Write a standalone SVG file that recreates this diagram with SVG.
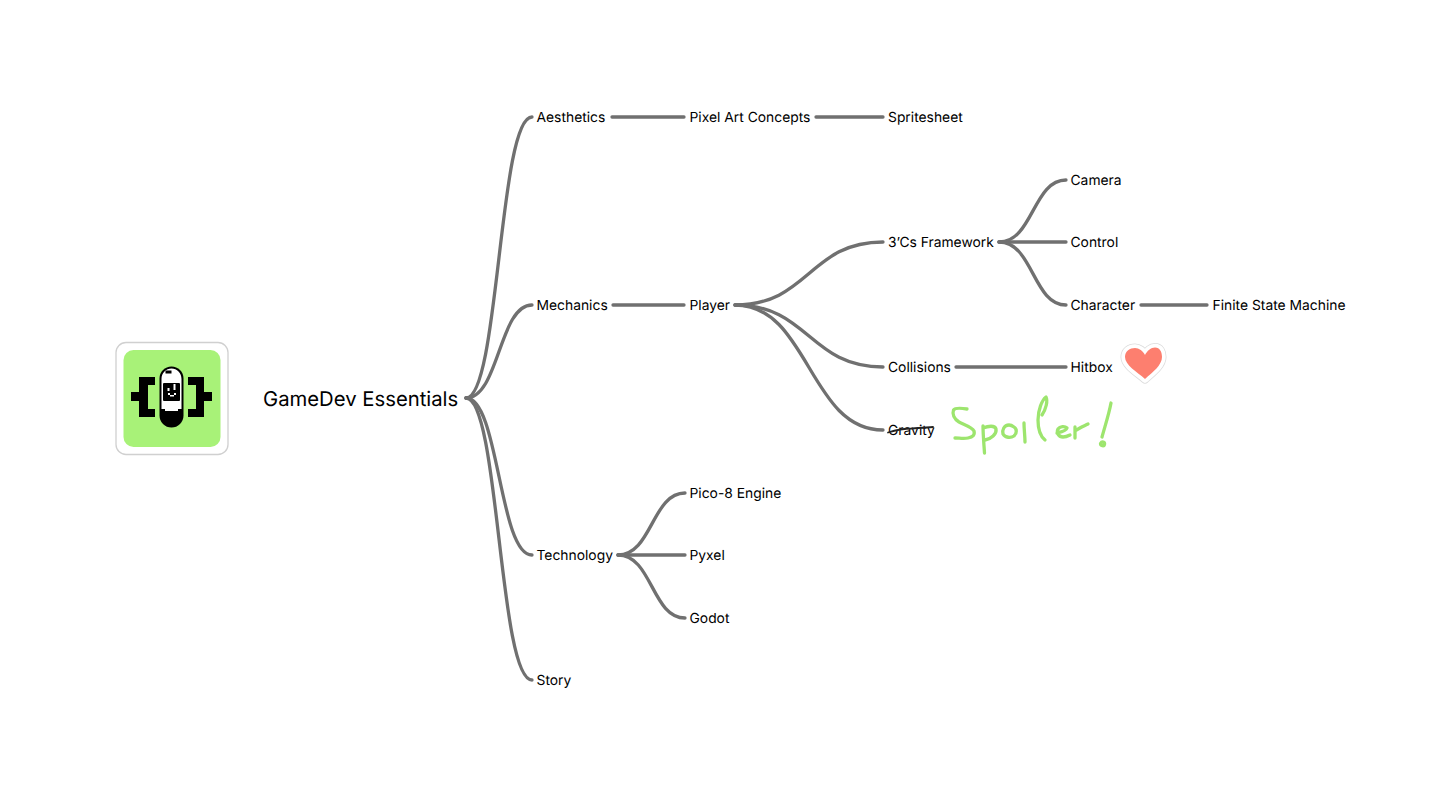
<svg xmlns="http://www.w3.org/2000/svg" width="1456" height="800" viewBox="0 0 1456 800">
<style>
text{font-family:Inter,"Liberation Sans",sans-serif;font-size:13.85px;fill:#000;text-rendering:geometricPrecision}
.c{fill:none;stroke:#707070;stroke-width:3.3;stroke-linecap:round}
.h{fill:none;stroke:#9de56e;stroke-width:3.3;stroke-linecap:round;stroke-linejoin:round}
.k{fill:#000}
.w{fill:#fff}
</style>
<rect width="1456" height="800" fill="#fff"/>
<g id="connectors">
<path class="c" d="M466 398C499 398 499 117 532 117"/>
<path class="c" d="M466 398C499 398 499 305 532 305"/>
<path class="c" d="M466 398C499 398 499 555 532 555"/>
<path class="c" d="M466 398C499 398 499 680 532 680"/>
<path class="c" d="M612 117H684"/>
<path class="c" d="M816 117H883"/>
<path class="c" d="M613 305H684"/>
<path class="c" d="M735 305C809 305 809 242 883 242"/>
<path class="c" d="M735 305C809 305 809 367 883 367"/>
<path class="c" d="M735 305C809 305 809 430 883 430"/>
<path class="c" d="M999 242C1033 242 1033 180 1066 180"/>
<path class="c" d="M999 242H1066"/>
<path class="c" d="M999 242C1033 242 1033 305 1066 305"/>
<path class="c" d="M1141 305H1207"/>
<path class="c" d="M956 367H1066"/>
<path class="c" d="M618 555C652 555 652 493 685 493"/>
<path class="c" d="M618 555H685"/>
<path class="c" d="M618 555C652 555 652 618 685 618"/>
</g>
<g id="logo">
<rect x="116" y="342.500" width="112" height="112" rx="10" fill="#fff" stroke="#d0d0d0" stroke-width="1.300"/>
<rect x="123.500" y="350" width="97" height="97" rx="10" fill="#a8f278"/>
<path class="k" d="M131 392H139V377H155V385H148V409H155V417H139V401H131Z"/>
<path class="k" d="M212 392H204V377H188V385H196V409H188V417H204V401H212Z"/>
<rect x="159.500" y="366.500" width="24" height="61" rx="12" class="k"/>
<path class="w" d="M161.500 409V379C161.500 373 166 368.500 171.500 368.500C177 368.500 181.500 373 181.500 379V409H178V411H165V409Z"/>
<rect x="163" y="383" width="17" height="18" rx="1" class="k"/>
<rect x="165.500" y="370.500" width="6" height="3" class="k"/>
<rect x="167.500" y="388" width="2" height="3" class="w"/>
<rect x="173.500" y="384" width="2" height="6" class="w"/>
<rect x="168" y="393" width="2" height="2" class="w"/>
<rect x="170" y="395" width="4" height="1.500" class="w"/>
<rect x="174" y="393" width="2" height="2" class="w"/>
</g>
<g id="root"><text x="263" y="406" style="font-size:20.300px">GameDev Essentials</text></g>
<g id="aesthetics"><text x="536.500" y="122">Aesthetics</text></g>
<g id="pixel-art"><text x="689.500" y="122">Pixel Art Concepts</text></g>
<g id="spritesheet"><text x="888" y="122">Spritesheet</text></g>
<g id="camera"><text x="1070.500" y="185">Camera</text></g>
<g id="framework"><text x="888" y="247.400">3’Cs Framework</text></g>
<g id="control"><text x="1070.500" y="247.400">Control</text></g>
<g id="mechanics"><text x="536.500" y="310">Mechanics</text></g>
<g id="player"><text x="689.500" y="310">Player</text></g>
<g id="character"><text x="1070.500" y="310">Character</text></g>
<g id="fsm"><text x="1212.500" y="310">Finite State Machine</text></g>
<g id="collisions"><text x="888" y="372.400">Collisions</text></g>
<g id="hitbox"><text x="1070.500" y="372.400">Hitbox</text></g>
<g id="gravity"><text x="888" y="435">Gravity</text>
<path d="M888 432.500C896 430 905 428.500 912 428.500C920 428 926 427.500 933 427" fill="none" stroke="#222" stroke-width="1.800" stroke-linecap="round"/></g>
<g id="pico"><text x="689.500" y="498">Pico-8 Engine</text></g>
<g id="technology"><text x="536.500" y="560.400">Technology</text></g>
<g id="pyxel"><text x="689.500" y="560.400">Pyxel</text></g>
<g id="godot"><text x="689.500" y="623">Godot</text></g>
<g id="story"><text x="536.500" y="685.400">Story</text></g>
<g id="heart">
<path d="M1145 379C1137 372 1125 365 1125 357C1125 351 1130 348 1135 348C1139 348 1143 351 1145 355C1147 351 1151 347.500 1155 347.500C1160 347.500 1162 352 1162 357C1162 365 1153 372 1145 379Z" fill="#fff" stroke="#dcdcdc" stroke-width="9" stroke-linejoin="round"/>
<path d="M1145 379C1137 372 1125 365 1125 357C1125 351 1130 348 1135 348C1139 348 1143 351 1145 355C1147 351 1151 347.500 1155 347.500C1160 347.500 1162 352 1162 357C1162 365 1153 372 1145 379Z" fill="#fff" stroke="#fff" stroke-width="7.500" stroke-linejoin="round"/>
<path d="M1145 379C1137 372 1125 365 1125 357C1125 351 1130 348 1135 348C1139 348 1143 351 1145 355C1147 351 1151 347.500 1155 347.500C1160 347.500 1162 352 1162 357C1162 365 1153 372 1145 379Z" fill="#fd7f6f"/>
</g>
<g id="spoiler">
<path class="h" d="M967 409C961 408 955 408 953.500 410C952 414 954 419 959 422C965 425 972 427 974 431C975 435 973 437 968 438C964 439 959 438 955 438"/>
<path class="h" d="M983 426C983 434 984 445 984.500 453M983 428C988 426 995 425 996 429C997 434 991 439 985 440"/>
<path class="h" d="M1009 425C1004 425 1002 430 1003 434C1005 438 1011 438 1014 436C1017 433 1017 429 1014 427C1012 425.500 1010 425 1009 425"/>
<path class="h" d="M1024 423C1024 430 1025 436 1025 442"/>
<path class="h" d="M1045 440C1040 436 1038 428 1038 420C1038 410 1042 400 1046 397C1048 401 1046 409 1042 415"/>
<path class="h" d="M1057 433C1061 432 1066 431 1067 428C1065 426 1060 426 1058 429C1056 433 1059 437 1063 437C1065 437 1068 436 1070 435"/>
<path class="h" d="M1075 427C1075 431 1075 435 1075 438M1075 431C1079 428 1084 426 1088 424"/>
<path class="h" d="M1111 403C1109 414 1105 426 1102 437"/>
<path class="h" d="M1100.500 443.500C1102 441 1105 442 1104.500 444.500C1104 446.500 1100.500 446 1100.500 443.500Z"/>
</g>
</svg>
